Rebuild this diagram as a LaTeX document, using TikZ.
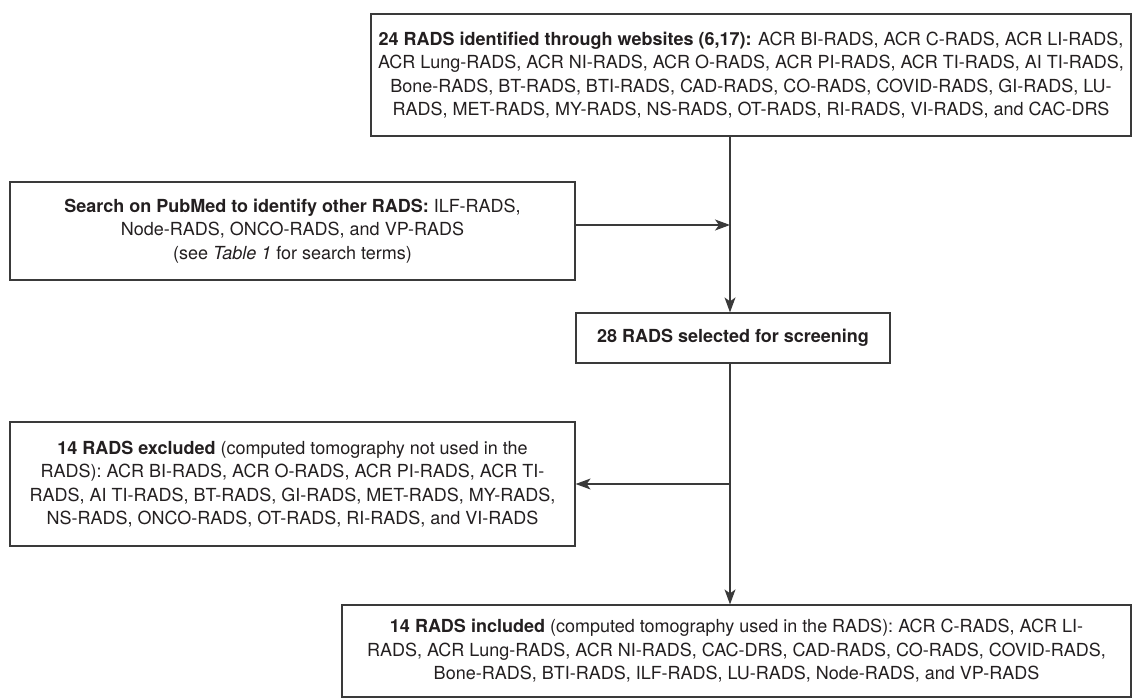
\documentclass[tikz,border=0pt]{standalone}
\usepackage{fontspec}
\setmainfont{TeX Gyre Heros}
\usepackage{xcolor}
\usetikzlibrary{arrows.meta,calc}
\definecolor{ink}{HTML}{231F20}
\definecolor{rule}{HTML}{3A3A3A}

\begin{document}
\begin{tikzpicture}[x=1pt,y=-1pt,
    box/.style={draw=rule,line width=1.2pt,align=center,inner sep=0pt,text=ink,font=\fontsize{18}{23.5}\selectfont},
    arr/.style={draw=rule,line width=1.2pt,-{Stealth[length=15pt,width=11pt,inset=4pt]}}]
      \useasboundingbox (0,0) rectangle (1132,698);
      \node[box,minimum width=760pt,minimum height=122pt] (web) at (751,75)
      {\textbf{24 RADS identified through websites (6,17):} ACR BI-RADS, ACR C-RADS, ACR LI-RADS,\\
       ACR Lung-RADS, ACR NI-RADS, ACR O-RADS, ACR PI-RADS, ACR TI-RADS, AI TI-RADS,\\
       Bone-RADS, BT-RADS, BTI-RADS, CAD-RADS, CO-RADS, COVID-RADS, GI-RADS, LU-\\
       RADS, MET-RADS, MY-RADS, NS-RADS, OT-RADS, RI-RADS, VI-RADS, and CAC-DRS};
      \node[box,minimum width=565pt,minimum height=98pt] (search) at (292.5,231)
      {\textbf{Search on PubMed to identify other RADS:} ILF-RADS,\\
       Node-RADS, ONCO-RADS, and VP-RADS\\
       (see \textit{Table 1} for search terms)};
      \node[box,minimum width=314pt,minimum height=50pt] (sel) at (733,338)
      {\textbf{28 RADS selected for screening}};
      \node[box,minimum width=565pt,minimum height=124pt] (excl) at (292.5,484)
      {\textbf{14 RADS excluded} (computed tomography not used in the\\
       RADS): ACR BI-RADS, ACR O-RADS, ACR PI-RADS, ACR TI-\\
       RADS, AI TI-RADS, BT-RADS, GI-RADS, MET-RADS, MY-RADS,\\
       NS-RADS, ONCO-RADS, OT-RADS, RI-RADS, and VI-RADS};
      \node[box,minimum width=789pt,minimum height=92pt] (incl) at (736.5,651)
      {\textbf{14 RADS included} (computed tomography used in the RADS): ACR C-RADS, ACR LI-\\
       RADS, ACR Lung-RADS, ACR NI-RADS, CAC-DRS, CAD-RADS, CO-RADS, COVID-RADS,\\
       Bone-RADS, BTI-RADS, ILF-RADS, LU-RADS, Node-RADS, and VP-RADS};
      \coordinate (j1) at (730,225);
      \coordinate (j2) at (730,484);
      \draw[rule,line width=1.2pt] (web.south -| j1) -- (j1);
      \draw[arr] (search.east |- j1) -- (j1);
      \draw[arr] (j1) -- (sel.north -| j1);
      \draw[rule,line width=1.2pt] (sel.south -| j2) -- (j2);
      \draw[arr] (j2) -- (excl.east |- j2);
      \draw[arr] (j2) -- (incl.north -| j2);
    \end{tikzpicture}
\end{document}
